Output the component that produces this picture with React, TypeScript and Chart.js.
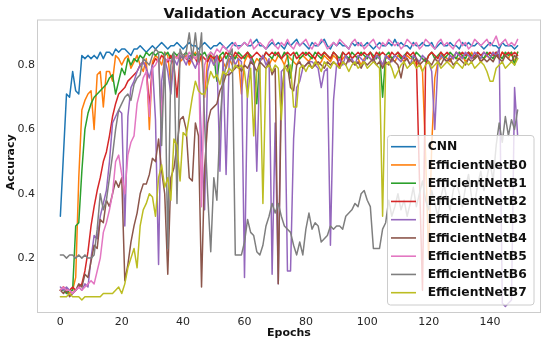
import React, { useEffect, useRef } from "react";
import { Chart, registerables } from "chart.js";

Chart.register(...registerables);

const epochs: number[] = Array.from({ length: 150 }, (_, i) => i);
const xTicks = [0, 20, 40, 60, 80, 100, 120, 140];
const yTicks = [0.2, 0.4, 0.6, 0.8];
const seriesNames = ["CNN", "EfficientNetB0", "EfficientNetB1", "EfficientNetB2", "EfficientNetB3", "EfficientNetB4", "EfficientNetB5", "EfficientNetB6", "EfficientNetB7"];
const seriesColors = ["#1f77b4", "#ff7f0e", "#2ca02c", "#d62728", "#9467bd", "#8c564b", "#e377c2", "#7f7f7f", "#bcbd22"];

const cnn = [
  0.33, 0.52, 0.71, 0.70, 0.78, 0.72, 0.71, 0.83, 0.82, 0.83,
  0.82, 0.83, 0.82, 0.84, 0.82, 0.84, 0.84, 0.83, 0.85, 0.84,
  0.85, 0.85, 0.84, 0.83, 0.85, 0.85, 0.86, 0.85, 0.84, 0.85,
  0.86, 0.85, 0.86, 0.87, 0.86, 0.85, 0.86, 0.86, 0.87, 0.86,
  0.85, 0.86, 0.87, 0.86, 0.86, 0.85, 0.86, 0.87, 0.86, 0.85,
  0.86, 0.86, 0.87, 0.86, 0.85, 0.86, 0.87, 0.86, 0.86, 0.86,
  0.87, 0.86, 0.86, 0.87, 0.88, 0.86, 0.86, 0.85, 0.86, 0.87,
  0.86, 0.87, 0.86, 0.85, 0.87, 0.86, 0.87, 0.88, 0.86, 0.87,
  0.86, 0.85, 0.87, 0.86, 0.86, 0.87, 0.88, 0.86, 0.85, 0.87,
  0.86, 0.87, 0.86, 0.86, 0.85, 0.87, 0.86, 0.87, 0.86, 0.86,
  0.87, 0.86, 0.85, 0.86, 0.87, 0.86, 0.86, 0.87, 0.86, 0.88,
  0.86, 0.87, 0.86, 0.86, 0.85, 0.87, 0.86, 0.86, 0.87, 0.86,
  0.86, 0.87, 0.85, 0.86, 0.87, 0.86, 0.86, 0.87, 0.86, 0.86,
  0.85, 0.87, 0.86, 0.87, 0.86, 0.86, 0.87, 0.86, 0.85, 0.86,
  0.87, 0.86, 0.86, 0.85, 0.87, 0.86, 0.86, 0.86, 0.85, 0.86,
];

const effB0 = [
  0.10, 0.11, 0.10, 0.09, 0.10, 0.14, 0.45, 0.66, 0.69, 0.71,
  0.72, 0.60, 0.77, 0.78, 0.67, 0.78, 0.78, 0.75, 0.83, 0.82,
  0.80, 0.82, 0.83, 0.79, 0.81, 0.83, 0.80, 0.78, 0.82, 0.60,
  0.81, 0.83, 0.82, 0.80, 0.84, 0.83, 0.74, 0.82, 0.83, 0.81,
  0.82, 0.83, 0.80, 0.82, 0.84, 0.81, 0.83, 0.70, 0.82, 0.83,
  0.80, 0.82, 0.83, 0.81, 0.79, 0.82, 0.80, 0.83, 0.82, 0.71,
  0.81, 0.83, 0.82, 0.80, 0.82, 0.81, 0.83, 0.82, 0.80, 0.82,
  0.81, 0.83, 0.82, 0.80, 0.83, 0.82, 0.81, 0.80, 0.82, 0.83,
  0.82, 0.81, 0.83, 0.82, 0.80, 0.81, 0.83, 0.82, 0.81, 0.83,
  0.82, 0.80, 0.82, 0.83, 0.81, 0.82, 0.83, 0.82, 0.80, 0.82,
  0.83, 0.82, 0.81, 0.83, 0.82, 0.80, 0.82, 0.83, 0.82, 0.81,
  0.83, 0.82, 0.81, 0.83, 0.82, 0.82, 0.80, 0.81, 0.78, 0.52,
  0.20, 0.55, 0.76, 0.81, 0.82, 0.83, 0.82, 0.81, 0.83, 0.82,
  0.82, 0.83, 0.81, 0.82, 0.84, 0.82, 0.83, 0.81, 0.82, 0.83,
  0.82, 0.84, 0.83, 0.82, 0.84, 0.83, 0.82, 0.84, 0.81, 0.84,
];

const effB1 = [
  0.10, 0.10, 0.09, 0.10, 0.10, 0.30, 0.31, 0.47, 0.60, 0.65,
  0.68, 0.70, 0.71, 0.72, 0.73, 0.74, 0.76, 0.77, 0.71, 0.75,
  0.79, 0.77, 0.82, 0.80, 0.82, 0.81, 0.83, 0.82, 0.84, 0.83,
  0.84, 0.83, 0.84, 0.84, 0.83, 0.84, 0.82, 0.84, 0.83, 0.84,
  0.83, 0.84, 0.82, 0.84, 0.83, 0.84, 0.83, 0.84, 0.82, 0.84,
  0.83, 0.75, 0.83, 0.84, 0.82, 0.84, 0.83, 0.82, 0.84, 0.83,
  0.82, 0.84, 0.83, 0.81, 0.68, 0.82, 0.82, 0.84, 0.83, 0.82,
  0.84, 0.83, 0.82, 0.84, 0.83, 0.76, 0.83, 0.84, 0.82, 0.83,
  0.84, 0.83, 0.82, 0.84, 0.83, 0.82, 0.84, 0.83, 0.82, 0.84,
  0.83, 0.82, 0.84, 0.83, 0.82, 0.84, 0.83, 0.82, 0.84, 0.83,
  0.82, 0.84, 0.83, 0.82, 0.84, 0.70, 0.83, 0.84, 0.82, 0.83,
  0.84, 0.82, 0.83, 0.84, 0.83, 0.82, 0.84, 0.83, 0.82, 0.81,
  0.83, 0.84, 0.82, 0.83, 0.84, 0.82, 0.83, 0.84, 0.83, 0.82,
  0.84, 0.83, 0.82, 0.84, 0.83, 0.82, 0.84, 0.83, 0.82, 0.84,
  0.83, 0.82, 0.84, 0.83, 0.82, 0.84, 0.83, 0.84, 0.80, 0.84,
];

const effB2 = [
  0.10, 0.11, 0.10, 0.10, 0.11, 0.10, 0.11, 0.12, 0.16, 0.22,
  0.30, 0.36, 0.41, 0.45, 0.50, 0.53, 0.58, 0.64, 0.68, 0.71,
  0.72, 0.73, 0.75, 0.76, 0.77, 0.78, 0.80, 0.81, 0.79, 0.67,
  0.80, 0.82, 0.81, 0.83, 0.82, 0.81, 0.83, 0.80, 0.70, 0.82,
  0.83, 0.82, 0.81, 0.83, 0.82, 0.80, 0.83, 0.82, 0.81, 0.83,
  0.82, 0.83, 0.81, 0.82, 0.84, 0.83, 0.82, 0.84, 0.83, 0.82,
  0.83, 0.84, 0.82, 0.83, 0.84, 0.83, 0.82, 0.84, 0.83, 0.84,
  0.83, 0.84, 0.82, 0.83, 0.84, 0.83, 0.84, 0.82, 0.83, 0.84,
  0.83, 0.84, 0.83, 0.82, 0.84, 0.83, 0.84, 0.83, 0.82, 0.84,
  0.83, 0.79, 0.84, 0.83, 0.84, 0.82, 0.83, 0.84, 0.83, 0.84,
  0.83, 0.84, 0.82, 0.84, 0.83, 0.84, 0.83, 0.82, 0.84, 0.83,
  0.84, 0.83, 0.82, 0.84, 0.83, 0.84, 0.82, 0.45, 0.10, 0.80,
  0.83, 0.84, 0.83, 0.82, 0.84, 0.83, 0.84, 0.83, 0.82, 0.84,
  0.83, 0.84, 0.83, 0.84, 0.82, 0.83, 0.84, 0.83, 0.84, 0.83,
  0.84, 0.83, 0.84, 0.82, 0.84, 0.83, 0.84, 0.83, 0.84, 0.83,
];

const effB3 = [
  0.11, 0.10, 0.11, 0.10, 0.09, 0.10, 0.11, 0.10, 0.12, 0.11,
  0.20, 0.27, 0.26, 0.33, 0.37, 0.41, 0.50, 0.62, 0.64, 0.66,
  0.65, 0.30, 0.64, 0.73, 0.75, 0.78, 0.80, 0.81, 0.79, 0.76,
  0.80, 0.63, 0.18, 0.75, 0.82, 0.78, 0.71, 0.82, 0.80, 0.83,
  0.82, 0.80, 0.83, 0.81, 0.79, 0.82, 0.55, 0.35, 0.78, 0.82,
  0.80, 0.83, 0.47, 0.82, 0.46, 0.81, 0.83, 0.80, 0.82, 0.81,
  0.14, 0.75, 0.82, 0.80, 0.47, 0.81, 0.83, 0.80, 0.82, 0.15,
  0.62, 0.12, 0.78, 0.79, 0.16, 0.16, 0.57, 0.73, 0.75, 0.79,
  0.80, 0.81, 0.81, 0.80, 0.79, 0.73, 0.78, 0.79, 0.24, 0.69,
  0.80, 0.82, 0.80, 0.83, 0.81, 0.82, 0.80, 0.83, 0.82, 0.81,
  0.83, 0.82, 0.81, 0.83, 0.82, 0.80, 0.83, 0.82, 0.81, 0.83,
  0.82, 0.81, 0.83, 0.82, 0.80, 0.83, 0.82, 0.81, 0.83, 0.82,
  0.81, 0.78, 0.60, 0.80, 0.83, 0.82, 0.81, 0.83, 0.82, 0.84,
  0.83, 0.82, 0.84, 0.83, 0.82, 0.84, 0.83, 0.82, 0.84, 0.83,
  0.82, 0.84, 0.83, 0.85, 0.06, 0.05, 0.06, 0.07, 0.73, 0.58,
];

const effB4 = [
  0.10, 0.09, 0.10, 0.08, 0.09, 0.10, 0.12, 0.11, 0.15, 0.14,
  0.19, 0.24, 0.23, 0.32, 0.31, 0.38, 0.36, 0.40, 0.44, 0.42,
  0.45, 0.13, 0.18, 0.25, 0.30, 0.34, 0.40, 0.43, 0.43, 0.46,
  0.51, 0.50, 0.57, 0.47, 0.40, 0.15, 0.45, 0.48, 0.55, 0.63,
  0.64, 0.60, 0.45, 0.44, 0.62, 0.58, 0.11, 0.48, 0.62, 0.66,
  0.67, 0.68, 0.72, 0.74, 0.77, 0.77, 0.78, 0.79, 0.80, 0.78,
  0.80, 0.79, 0.81, 0.80, 0.78, 0.81, 0.80, 0.79, 0.81, 0.77,
  0.79, 0.12, 0.70, 0.79, 0.80, 0.73, 0.72, 0.80, 0.81, 0.79,
  0.80, 0.81, 0.79, 0.80, 0.81, 0.80, 0.79, 0.81, 0.80, 0.81,
  0.80, 0.79, 0.81, 0.80, 0.82, 0.81, 0.80, 0.81, 0.79, 0.81,
  0.80, 0.81, 0.82, 0.80, 0.81, 0.79, 0.81, 0.80, 0.82, 0.81,
  0.80, 0.76, 0.81, 0.82, 0.80, 0.81, 0.82, 0.80, 0.81, 0.82,
  0.81, 0.80, 0.82, 0.81, 0.80, 0.82, 0.81, 0.82, 0.80, 0.81,
  0.82, 0.81, 0.80, 0.82, 0.81, 0.82, 0.83, 0.81, 0.82, 0.81,
  0.82, 0.81, 0.83, 0.82, 0.81, 0.83, 0.82, 0.81, 0.83, 0.82,
];

const effB5 = [
  0.10, 0.11, 0.10, 0.10, 0.09, 0.10, 0.11, 0.10, 0.11, 0.12,
  0.13, 0.12, 0.16, 0.20, 0.28, 0.31, 0.35, 0.40, 0.50, 0.52,
  0.46, 0.40, 0.52, 0.56, 0.58, 0.68, 0.72, 0.76, 0.78, 0.64,
  0.79, 0.80, 0.82, 0.64, 0.80, 0.82, 0.81, 0.83, 0.82, 0.84,
  0.83, 0.82, 0.84, 0.83, 0.82, 0.84, 0.36, 0.80, 0.83, 0.84,
  0.83, 0.85, 0.84, 0.86, 0.85, 0.84, 0.86, 0.87, 0.85, 0.86,
  0.87, 0.86, 0.88, 0.85, 0.86, 0.87, 0.86, 0.85, 0.87, 0.88,
  0.86, 0.85, 0.87, 0.86, 0.88, 0.86, 0.85, 0.87, 0.86, 0.87,
  0.88, 0.86, 0.85, 0.87, 0.86, 0.88, 0.87, 0.85, 0.86, 0.87,
  0.86, 0.88, 0.87, 0.86, 0.85, 0.87, 0.88, 0.86, 0.87, 0.85,
  0.86, 0.87, 0.88, 0.86, 0.85, 0.87, 0.86, 0.88, 0.87, 0.86,
  0.87, 0.85, 0.86, 0.88, 0.87, 0.86, 0.87, 0.85, 0.86, 0.88,
  0.87, 0.86, 0.85, 0.87, 0.88, 0.86, 0.87, 0.86, 0.85, 0.87,
  0.88, 0.86, 0.87, 0.85, 0.86, 0.88, 0.87, 0.86, 0.87, 0.88,
  0.86, 0.87, 0.89, 0.86, 0.87, 0.88, 0.86, 0.87, 0.86, 0.88,
];

const effB6 = [
  0.21, 0.21, 0.20, 0.21, 0.21, 0.20, 0.21, 0.20, 0.21, 0.20,
  0.20, 0.21, 0.29, 0.40, 0.35, 0.38, 0.45, 0.52, 0.60, 0.66,
  0.68, 0.70, 0.71, 0.69, 0.74, 0.76, 0.77, 0.82, 0.81, 0.80,
  0.83, 0.85, 0.84, 0.55, 0.84, 0.23, 0.80, 0.84, 0.37, 0.85,
  0.82, 0.84, 0.90, 0.82, 0.90, 0.81, 0.90, 0.62, 0.40, 0.22,
  0.45, 0.38, 0.62, 0.75, 0.80, 0.83, 0.85, 0.21, 0.21, 0.21,
  0.25, 0.32, 0.28, 0.27, 0.22, 0.21, 0.24, 0.30, 0.33, 0.37,
  0.34, 0.37, 0.33, 0.30, 0.29, 0.28, 0.24, 0.21, 0.25, 0.21,
  0.29, 0.34, 0.29, 0.31, 0.30, 0.25, 0.26, 0.27, 0.30, 0.29,
  0.30, 0.30, 0.29, 0.33, 0.34, 0.35, 0.37, 0.36, 0.40, 0.41,
  0.38, 0.36, 0.23, 0.23, 0.23, 0.29, 0.31, 0.38, 0.33, 0.36,
  0.40, 0.35, 0.38, 0.33, 0.37, 0.42, 0.36, 0.40, 0.44, 0.38,
  0.35, 0.41, 0.37, 0.33, 0.39, 0.43, 0.38, 0.35, 0.41, 0.44,
  0.40, 0.36, 0.42, 0.46, 0.39, 0.37, 0.43, 0.47, 0.41, 0.45,
  0.50, 0.44, 0.55, 0.62, 0.56, 0.64, 0.58, 0.63, 0.60, 0.66,
];

const effB7 = [
  0.08, 0.08, 0.08, 0.09, 0.08, 0.08, 0.08, 0.07, 0.08, 0.08,
  0.08, 0.08, 0.08, 0.08, 0.09, 0.09, 0.09, 0.09, 0.10, 0.11,
  0.09, 0.12, 0.17, 0.20, 0.23, 0.17, 0.30, 0.35, 0.37, 0.40,
  0.39, 0.33, 0.45, 0.49, 0.42, 0.45, 0.38, 0.57, 0.55, 0.44,
  0.59, 0.58, 0.64, 0.70, 0.75, 0.72, 0.71, 0.71, 0.74, 0.78,
  0.76, 0.77, 0.74, 0.78, 0.77, 0.79, 0.78, 0.80, 0.79, 0.80,
  0.78, 0.70, 0.79, 0.58, 0.78, 0.80, 0.37, 0.79, 0.80, 0.78,
  0.80, 0.79, 0.63, 0.80, 0.78, 0.80, 0.67, 0.67, 0.79, 0.80,
  0.78, 0.80, 0.79, 0.81, 0.80, 0.78, 0.81, 0.80, 0.79, 0.81,
  0.80, 0.79, 0.81, 0.80, 0.78, 0.80, 0.81, 0.79, 0.80, 0.81,
  0.79, 0.80, 0.81, 0.80, 0.79, 0.33, 0.80, 0.81, 0.79, 0.76,
  0.78, 0.80, 0.81, 0.79, 0.80, 0.81, 0.79, 0.80, 0.78, 0.80,
  0.81, 0.79, 0.80, 0.81, 0.79, 0.80, 0.81, 0.80, 0.79, 0.81,
  0.80, 0.79, 0.81, 0.80, 0.81, 0.79, 0.80, 0.81, 0.80, 0.78,
  0.75, 0.75, 0.79, 0.80, 0.81, 0.79, 0.80, 0.81, 0.80, 0.82,
];

const allSeries = [cnn, effB0, effB1, effB2, effB3, effB4, effB5, effB6, effB7];

const FONT = "'DejaVu Sans', sans-serif";

const decorPlugin = {
  id: "decor",
  afterDatasetsDraw(chart: any) {
    const { ctx, chartArea: a } = chart;
    ctx.save();
    // frame
    ctx.strokeStyle = "#cccccc";
    ctx.lineWidth = 1;
    ctx.strokeRect(a.left, a.top, a.right - a.left, a.bottom - a.top);

    // legend
    const boxL = 387.5, boxT = 135.5, boxR = a.right - 6.5, boxB = a.bottom - 7.5;
    ctx.beginPath();
    if (ctx.roundRect) ctx.roundRect(boxL, boxT, boxR - boxL, boxB - boxT, 3);
    else ctx.rect(boxL, boxT, boxR - boxL, boxB - boxT);
    ctx.fillStyle = "rgba(255,255,255,0.8)";
    ctx.fill();
    ctx.strokeStyle = "#cccccc";
    ctx.lineWidth = 1;
    ctx.stroke();

    ctx.font = `bold 12.3px ${FONT}`;
    ctx.textBaseline = "middle";
    ctx.textAlign = "left";
    seriesNames.forEach((name, i) => {
      const y = 146.7 + i * 18.25;
      ctx.strokeStyle = seriesColors[i];
      ctx.lineWidth = 1.6;
      ctx.beginPath();
      ctx.moveTo(391, y);
      ctx.lineTo(416, y);
      ctx.stroke();
      ctx.fillStyle = "#111111";
      ctx.fillText(name, 427.7, y + 0.5);
    });
    ctx.restore();
  },
  afterDraw(chart: any) {
    const { ctx, chartArea: a } = chart;
    ctx.save();
    ctx.fillStyle = "#111111";
    ctx.textAlign = "center";
    ctx.textBaseline = "alphabetic";
    ctx.font = `bold 14.5px ${FONT}`;
    ctx.fillText("Validation Accuracy VS Epochs", (a.left + a.right) / 2, 18.2);
    ctx.font = `bold 11px ${FONT}`;
    ctx.fillText("Epochs", (a.left + a.right) / 2, 335.5);
    ctx.translate(14, (a.top + a.bottom) / 2 - 4);
    ctx.rotate(-Math.PI / 2);
    ctx.fillText("Accuracy", 0, 0);
    ctx.restore();
  },
};

export default function App() {
  const ref = useRef<HTMLCanvasElement | null>(null);

  useEffect(() => {
    if (!ref.current) return;
    const datasets = allSeries.map((vals, i) => ({
      label: seriesNames[i],
      data: vals.map((v, j) => ({ x: epochs[j], y: v })),
      borderColor: seriesColors[i],
      backgroundColor: seriesColors[i],
      borderWidth: 1.5,
      pointRadius: 0,
      pointHoverRadius: 0,
      tension: 0,
      fill: false,
      borderJoinStyle: "round" as const,
      borderCapStyle: "round" as const,
      order: allSeries.length - i,
    }));

    const chart = new Chart(ref.current, {
      type: "line",
      data: { datasets },
      options: {
        responsive: false,
        animation: false,
        layout: { padding: { top: 20, left: 0, right: 9.5, bottom: 0 } },
        plugins: {
          legend: { display: false },
          title: { display: false },
          tooltip: { enabled: false },
        },
        scales: {
          x: {
            type: "linear",
            min: -7.45,
            max: 156.45,
            grid: { display: false, drawTicks: false },
            border: { display: false },
            ticks: {
              font: { family: FONT, size: 11 },
              color: "#262626",
              padding: 3,
              maxRotation: 0,
              callback: (v: any) => String(v),
            },
            afterBuildTicks: (axis: any) => {
              axis.ticks = xTicks.map((v) => ({ value: v }));
            },
            afterFit: (axis: any) => {
              axis.height = 27.5;
            },
          },
          y: {
            type: "linear",
            min: 0.031,
            max: 0.94,
            grid: { display: false, drawTicks: false },
            border: { display: false },
            ticks: {
              font: { family: FONT, size: 11 },
              color: "#262626",
              padding: 2.5,
              callback: (v: any) => Number(v).toFixed(1),
            },
            afterBuildTicks: (axis: any) => {
              axis.ticks = yTicks.map((v) => ({ value: v }));
            },
            afterFit: (axis: any) => {
              axis.width = 37.5;
            },
          },
        },
      },
      plugins: [decorPlugin],
    });
    return () => chart.destroy();
  }, []);

  return (
    <div style={{ position: "absolute", left: 0, top: 0, width: 550, height: 340, background: "#ffffff" }}>
      <canvas ref={ref} width={550} height={340} style={{ display: "block" }} />
    </div>
  );
}
